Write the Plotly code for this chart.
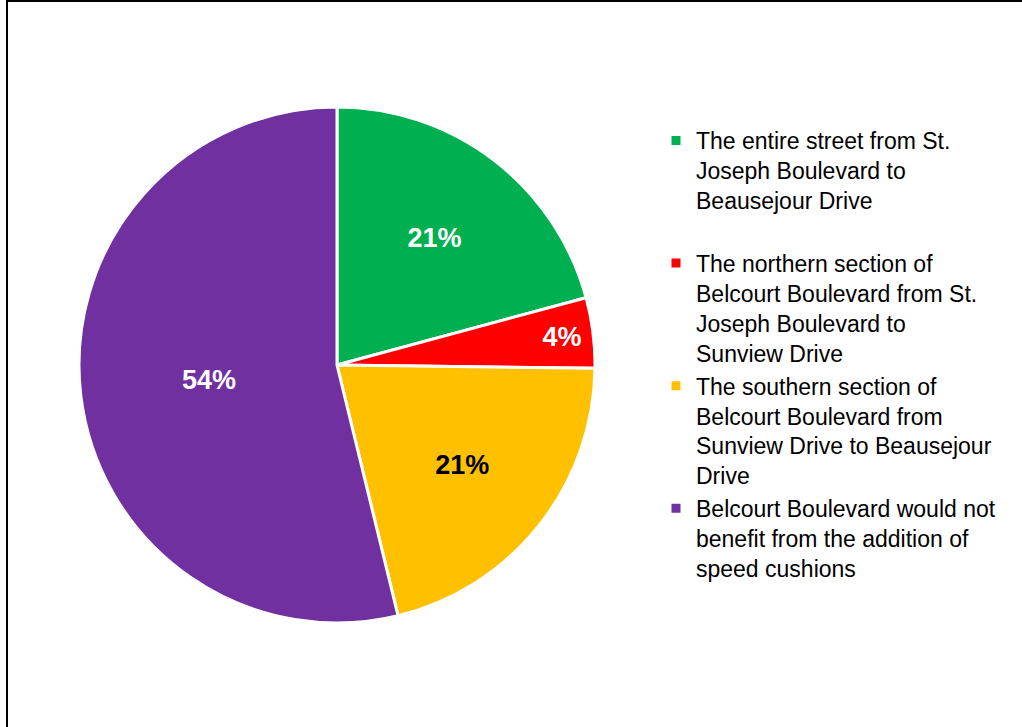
import plotly.graph_objects as go

categories = [
    "The entire street from St.<br>Joseph Boulevard to<br>Beausejour Drive<br> ",
    "The northern section of<br>Belcourt Boulevard from St.<br>Joseph Boulevard to<br>Sunview Drive",
    "The southern section of<br>Belcourt Boulevard from<br>Sunview Drive to Beausejour<br>Drive",
    "Belcourt Boulevard would not<br>benefit from the addition of<br>speed cushions",
]
values = [20.8, 4.4, 21.0, 53.8]
colors = ["#00B050", "#FF0000", "#FFC000", "#7030A0"]
text_colors = ["white", "white", "black", "white"]

W, H = 1022, 727

fig = go.Figure(
    go.Pie(
        labels=categories,
        values=values,
        sort=False,
        direction="clockwise",
        rotation=0,
        marker=dict(colors=colors, line=dict(color="white", width=3)),
        texttemplate="<b>%{percent:.0%}</b>",
        textposition="inside",
        insidetextorientation="horizontal",
        textfont=dict(family="Liberation Sans, Arial, sans-serif", size=27, color=text_colors),
        domain=dict(x=[79 / W, 595 / W], y=[1 - 623 / H, 1 - 107 / H]),
        hoverinfo="label+percent",
    )
)

fig.update_layout(
    width=W,
    height=H,
    margin=dict(l=0, r=0, t=0, b=0),
    paper_bgcolor="white",
    plot_bgcolor="white",
    font=dict(family="Liberation Sans, Arial, sans-serif", size=23, color="black"),
    showlegend=True,
    legend=dict(
        x=656 / W,
        y=1 - 119 / H,
        xanchor="left",
        yanchor="top",
        valign="top",
        font=dict(size=23, color="black"),
        itemwidth=30,
        bgcolor="rgba(0,0,0,0)",
    ),
    shapes=[
        dict(type="line", xref="paper", yref="paper", x0=7 / W, x1=7 / W, y0=0, y1=1,
             line=dict(color="black", width=2)),
        dict(type="line", xref="paper", yref="paper", x0=7 / W, x1=1, y0=1 - 1 / H, y1=1 - 1 / H,
             line=dict(color="black", width=2)),
    ],
)

fig.write_html(
    "out.html",
    config={"displayModeBar": False},
    post_script="document.body.style.margin='0';document.body.style.overflow='hidden';",
)
